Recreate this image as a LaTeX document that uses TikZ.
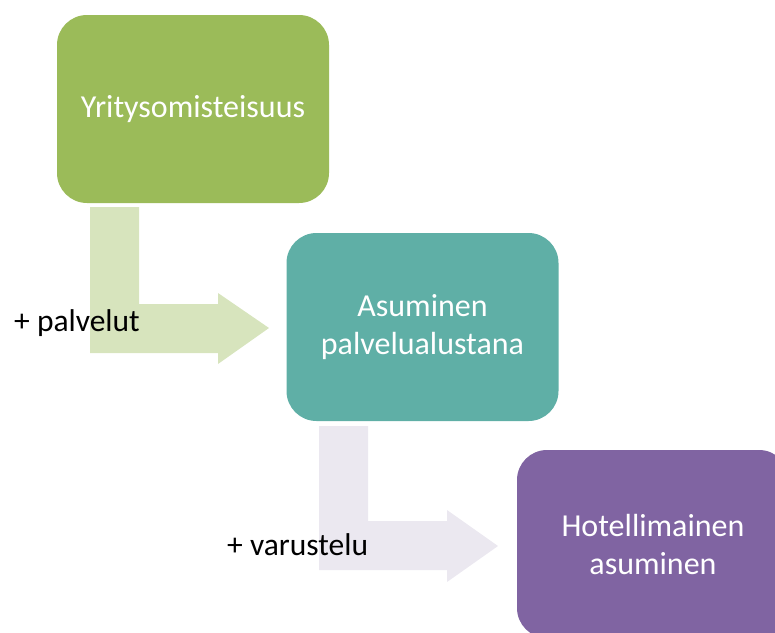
\documentclass[tikz,border=0pt]{standalone}
\usepackage{fontspec}
\setmainfont{Carlito}
\definecolor{boxgreen}{HTML}{9BBB59}
\definecolor{boxteal}{HTML}{5FAFA6}
\definecolor{boxpurple}{HTML}{8064A2}
\definecolor{arrowgreen}{HTML}{D7E4BD}
\definecolor{arrowlilac}{HTML}{EBE8F0}
\begin{document}
\begin{tikzpicture}[x=1pt,y=-1pt,
  stagebox/.style={rounded corners=30pt, minimum width=272pt, minimum height=188pt,
    inner sep=0pt, text=white, align=center,
    font=\fontsize{32}{38}\selectfont},
  sidelabel/.style={anchor=base west, inner sep=0pt, text=black,
    font=\fontsize{31.5}{37}\selectfont}]
\useasboundingbox (0,0) rectangle (775,632);
\clip (0,0) rectangle (775,632);
% bent arrows
\fill[arrowgreen] (90,207) -- (139,207) -- (139,304) -- (218,304) -- (218,293)
  -- (269,328) -- (218,364) -- (218,353) -- (90,353) -- cycle;
\fill[arrowlilac] (319,426) -- (368,426) -- (368,521) -- (447,521) -- (447,510)
  -- (498,546) -- (447,582) -- (447,570) -- (319,570) -- cycle;
% boxes
\node[stagebox, fill=boxgreen] (b1) at (193,109) {Yritysomisteisuus};
\node[stagebox, fill=boxteal] (b2) at (422.5,327) {Asuminen\\palvelualustana};
\node[stagebox, fill=boxpurple] (b3) at (653,544) {Hotellimainen\\asuminen};
% labels
\node[sidelabel] (l1) at (14,331) {+ palvelut};
\node[sidelabel] (l2) at (227,555) {+ varustelu};
\end{tikzpicture}
\end{document}
